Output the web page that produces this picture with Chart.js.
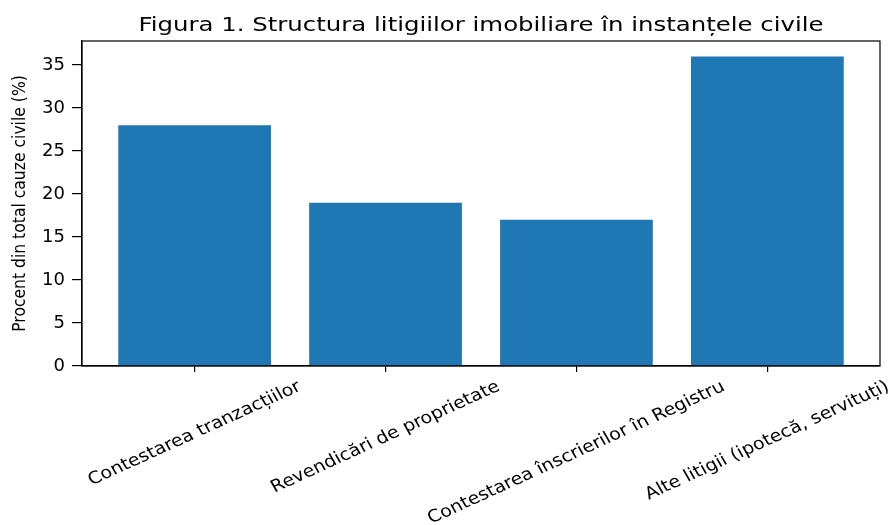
<!DOCTYPE html>
<html><head><meta charset="utf-8">
<script src="https://cdn.jsdelivr.net/npm/chart.js@4.4.0/dist/chart.umd.min.js"></script>
<style>html,body{margin:0;padding:0;background:#fff}#wrap{width:896px;height:525px}</style>
</head><body><div id="wrap"><canvas id="c" width="896" height="525"></canvas></div>
<script>
const titleText = "Figura 1. Structura litigiilor imobiliare în instanțele civile";
const yAxisLabel = "Procent din total cauze civile (%)";
const categories = ["Contestarea tranzacțiilor", "Revendicări de proprietate", "Contestarea înscrierilor în Registru", "Alte litigii (ipotecă, servituți)"];
const values = [28, 19, 17, 36];
const yTickValues = [0, 5, 10, 15, 20, 25, 30, 35];

const BAR_COLOR = '#1f77b4';
const ROT = 27 * Math.PI / 180;

const decor = {
  id: 'decor',
  afterDraw(chart) {
    const ctx = chart.ctx, a = chart.chartArea;
    const xs = chart.scales.x;
    ctx.save();
    // frame
    ctx.strokeStyle = '#000';
    ctx.lineWidth = 1.2;
    ctx.strokeRect(a.left, a.top, a.right - a.left, a.bottom - a.top);
    ctx.fillStyle = '#000';
    // title (horizontally widened like the reference)
    ctx.save();
    ctx.translate((a.left + a.right) / 2, 31);
    ctx.scale(1.3, 1);
    ctx.font = '18.8px "DejaVu Sans"';
    ctx.textAlign = 'center';
    ctx.textBaseline = 'alphabetic';
    ctx.fillText(titleText, 0, 0);
    ctx.restore();
    // y label
    ctx.save();
    ctx.translate(25, (a.top + a.bottom) / 2);
    ctx.scale(1.08, 1);
    ctx.rotate(-Math.PI / 2);
    ctx.font = '15.6px "DejaVu Sans"';
    ctx.textAlign = 'center';
    ctx.textBaseline = 'alphabetic';
    ctx.fillText(yAxisLabel, 0, 0);
    ctx.restore();
    // x labels, rotated, bbox centered on tick
    const fs = 17;
    ctx.font = fs + 'px "DejaVu Sans"';
    const h = fs * 1.164;
    categories.forEach((lab, i) => {
      const x = xs.getPixelForValue(i);
      const w = ctx.measureText(lab).width;
      const H = w * Math.sin(ROT) + h * Math.cos(ROT);
      const cy = a.bottom + 11 + H / 2;
      ctx.save();
      ctx.translate(x, cy);
      ctx.scale(1.12, 1);
      ctx.rotate(-ROT);
      ctx.textAlign = 'center';
      ctx.textBaseline = 'middle';
      ctx.fillText(lab, 0, 0);
      ctx.restore();
    });
    ctx.restore();
  }
};

new Chart(document.getElementById('c'), {
  type: 'bar',
  data: {
    datasets: [{
      data: values.map((v, i) => ({ x: i, y: v })),
      backgroundColor: BAR_COLOR,
      borderWidth: 0,
      barPercentage: 0.8,
      categoryPercentage: 1.0
    }]
  },
  options: {
    responsive: false,
    animation: false,
    devicePixelRatio: 1,
    layout: { padding: { top: 41, right: 16, bottom: 0, left: 0 } },
    plugins: { legend: { display: false }, tooltip: { enabled: false }, title: { display: false } },
    scales: {
      x: {
        type: 'linear',
        min: -0.59,
        max: 3.59,
        offset: false,
        afterBuildTicks: s => { s.ticks = categories.map((c, i) => ({ value: i })); },
        afterFit: s => { s.height = 159; },
        grid: { offset: false, drawOnChartArea: false, drawTicks: true, tickLength: 6, color: '#000', lineWidth: 1.2 },
        border: { display: true, color: '#000', width: 1.2 },
        ticks: { display: false }
      },
      y: {
        min: 0,
        max: 37.8,
        afterBuildTicks: s => { s.ticks = yTickValues.map(v => ({ value: v })); },
        afterFit: s => { s.width = 82; },
        grid: { drawOnChartArea: false, drawTicks: true, tickLength: 10, color: '#000', lineWidth: 1.2 },
        border: { display: true, color: '#000', width: 1.2 },
        ticks: { color: '#000', font: { family: 'DejaVu Sans', size: 18 }, padding: 7, callback: v => String(v) }
      }
    }
  },
  plugins: [decor]
});
</script></body></html>
